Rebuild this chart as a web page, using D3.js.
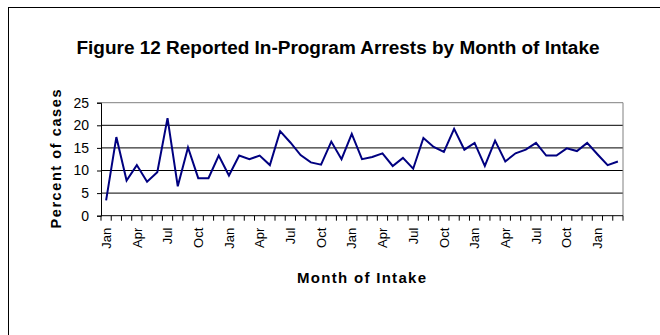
<!DOCTYPE html>
<html>
<head>
<meta charset="utf-8">
<script src="https://cdn.jsdelivr.net/npm/d3@7"></script>
<style>
  html, body { margin: 0; padding: 0; background: #fff; }
  svg { display: block; }
  text { font-family: "Liberation Sans", Arial, sans-serif; fill: #000; }
</style>
</head>
<body>
<svg id="chart" width="660" height="335"></svg>
<script>
// Intake months, January of year one through March of year five
const months = [
  "Jan","Feb","Mar","Apr","May","Jun","Jul","Aug","Sep","Oct","Nov","Dec",
  "Jan","Feb","Mar","Apr","May","Jun","Jul","Aug","Sep","Oct","Nov","Dec",
  "Jan","Feb","Mar","Apr","May","Jun","Jul","Aug","Sep","Oct","Nov","Dec",
  "Jan","Feb","Mar","Apr","May","Jun","Jul","Aug","Sep","Oct","Nov","Dec",
  "Jan","Feb","Mar"
];

// Percent of cases with a reported in-program arrest
const percentArrested = [
  3.4, 17.4, 7.8, 11.2, 7.5, 9.6, 21.6, 6.5, 15.1, 8.3, 8.3, 13.3,
  8.9, 13.3, 12.5, 13.3, 11.2, 18.7, 16.2, 13.4, 11.8, 11.3, 16.4, 12.5,
  18.1, 12.5, 13.0, 13.8, 11.0, 12.8, 10.4, 17.2, 15.2, 14.1, 19.2, 14.6,
  16.1, 11.0, 16.6, 12.0, 13.8, 14.6, 16.1, 13.3, 13.3, 14.9, 14.3, 16.1,
  13.6, 11.2, 12.0
];

const yTicks = [0, 5, 10, 15, 20, 25];
const labeledMonths = ["Jan", "Apr", "Jul", "Oct"];

const titleText = "Figure 12 Reported In-Program Arrests by Month of Intake";
const yTitle = "Percent of cases";
const xTitle = "Month of Intake";

const svg = d3.select("#chart");

// Chart frame
svg.append("rect")
  .attr("x", 8.5).attr("y", 7.5)
  .attr("width", 700).attr("height", 400)
  .attr("fill", "none").attr("stroke", "#000").attr("stroke-width", 1);

const plot = { left: 101, right: 623, top: 102.7, bottom: 215.7 };

const x = d3.scaleBand()
  .domain(d3.range(months.length))
  .range([plot.left, plot.right])
  .paddingInner(0).paddingOuter(0);

const y = d3.scaleLinear()
  .domain([0, 25])
  .range([plot.bottom, plot.top]);

// Horizontal gridlines
svg.append("g")
  .selectAll("line")
  .data(yTicks.filter(d => d > 0 && d < 25))
  .join("line")
  .attr("x1", plot.left).attr("x2", plot.right)
  .attr("y1", d => y(d)).attr("y2", d => y(d))
  .attr("stroke", "#000").attr("stroke-width", 1);

// Plot area border (top and right)
svg.append("path")
  .attr("d", `M${plot.left},${y(25)}H${plot.right}V${plot.bottom}`)
  .attr("fill", "none").attr("stroke", "#808080").attr("stroke-width", 1);

// Y axis
const yAxis = d3.axisLeft(y).tickValues(yTicks).tickSize(4).tickPadding(8);
const gy = svg.append("g")
  .attr("transform", `translate(${plot.left},0)`)
  .call(yAxis);
gy.select(".domain").attr("stroke", "#000");
gy.selectAll(".tick line").attr("stroke", "#000");
gy.selectAll(".tick text")
  .attr("font-size", 14)
  .attr("font-family", "Liberation Sans, Arial, sans-serif")
  .attr("fill", "#000");

// X axis: ticks between categories
const gx = svg.append("g");
gx.append("line")
  .attr("x1", plot.left).attr("x2", plot.right)
  .attr("y1", plot.bottom).attr("y2", plot.bottom)
  .attr("stroke", "#000");
gx.selectAll("line.tk")
  .data(d3.range(months.length + 1))
  .join("line")
  .attr("class", "tk")
  .attr("x1", i => i < months.length ? x(i) : x(months.length - 1) + x.bandwidth())
  .attr("x2", i => i < months.length ? x(i) : x(months.length - 1) + x.bandwidth())
  .attr("y1", plot.bottom).attr("y2", plot.bottom + 5)
  .attr("stroke", "#000");

// Rotated month labels every third month
gx.selectAll("text")
  .data(months.map((m, i) => ({ m, i })).filter(d => d.i % 3 === 0 && labeledMonths.includes(d.m)))
  .join("text")
  .attr("transform", d => `translate(${x(d.i) + x.bandwidth() / 2},${plot.bottom + 12}) rotate(-90)`)
  .attr("text-anchor", "end")
  .attr("dy", "0.36em")
  .attr("font-size", 13)
  .text(d => d.m);

// Series line
const line = d3.line()
  .x((d, i) => x(i) + x.bandwidth() / 2)
  .y(d => y(d));

svg.append("path")
  .datum(percentArrested)
  .attr("d", line)
  .attr("fill", "none")
  .attr("stroke", "#000080")
  .attr("stroke-width", 2)
  .attr("stroke-linejoin", "miter");

// Titles
svg.append("text")
  .attr("x", 338).attr("y", 54)
  .attr("text-anchor", "middle")
  .attr("font-size", 17.5)
  .attr("font-weight", "bold")
  .attr("textLength", 523)
  .attr("lengthAdjust", "spacingAndGlyphs")
  .text(titleText);

svg.append("text")
  .attr("transform", `translate(61,159) rotate(-90)`)
  .attr("text-anchor", "middle")
  .attr("font-size", 14.5)
  .attr("font-weight", "bold")
  .attr("textLength", 139)
  .attr("lengthAdjust", "spacing")
  .text(yTitle);

svg.append("text")
  .attr("x", 361.5).attr("y", 283)
  .attr("text-anchor", "middle")
  .attr("font-size", 15)
  .attr("font-weight", "bold")
  .attr("textLength", 129)
  .attr("lengthAdjust", "spacing")
  .text(xTitle);
</script>
</body>
</html>
